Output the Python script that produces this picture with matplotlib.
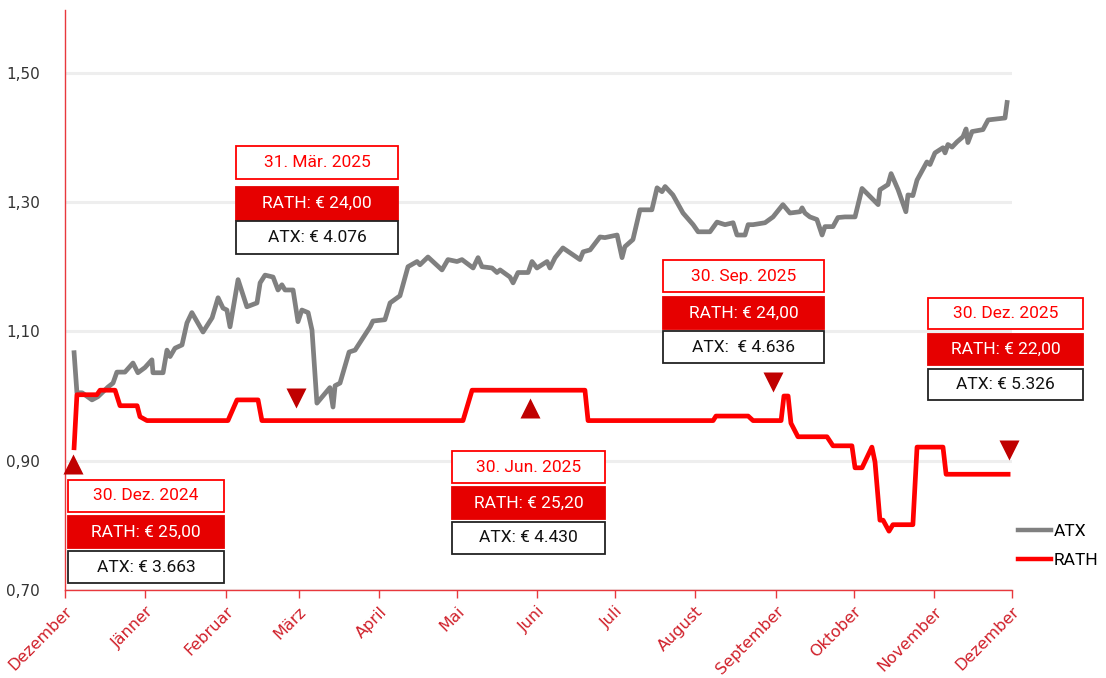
"""RATH vs ATX, normalised, Dez 2024 - Dez 2025."""

import matplotlib

matplotlib.use("Agg")
import matplotlib.pyplot as plt
from matplotlib.patches import Rectangle

W, H = 1106, 678

# x = days since 1 Dec 2024
month_days = [0, 31, 62, 90, 121, 151, 182, 212, 243, 274, 304, 335, 365]
month_labels = ["Dezember", "Jänner", "Februar", "März", "April", "Mai", "Juni",
                "Juli", "August", "September", "Oktober", "November", "Dezember"]
y_ticks = [0.70, 0.90, 1.10, 1.30, 1.50]

atx_days = [3.5, 4.6, 6.6, 10.4, 12.7, 16.6, 18.5, 20.0, 23.1, 26.2, 28.1, 30.8,
            33.5, 33.9, 37.8, 39.3, 40.5, 42.4, 45.1, 47.0, 48.9, 53.2, 56.7,
            59.0, 60.9, 62.4, 63.6, 66.7, 70.1, 74.0, 75.2, 77.1, 80.2, 82.1,
            83.6, 84.8, 87.9, 89.8, 91.3, 93.7, 95.2, 97.1, 102.1, 103.3, 104.1,
            106.0, 109.5, 111.8, 117.6, 118.7, 123.3, 125.3, 129.1, 132.2, 135.7,
            136.8, 139.9, 145.3, 147.6, 151.1, 153.0, 157.3, 159.2, 160.7, 164.6,
            166.5, 167.7, 171.5, 172.7, 174.6, 178.5, 180.0, 181.9, 185.8, 186.9,
            188.9, 191.9, 198.5, 199.7, 202.4, 206.2, 208.1, 212.8, 214.7, 215.8,
            218.9, 221.6, 226.2, 228.2, 230.1, 231.3, 234.3, 238.2, 242.1, 244.0,
            248.6, 251.3, 254.4, 257.5, 259.0, 262.1, 263.3, 265.2, 269.8, 272.9,
            276.7, 279.4, 283.3, 284.1, 285.2, 287.1, 289.8, 291.8, 292.9, 296.0,
            297.9, 300.6, 304.5, 307.2, 313.4, 314.1, 317.2, 318.4, 321.1, 324.1,
            324.9, 326.8, 328.4, 332.2, 333.4, 335.3, 338.4, 339.2, 340.3, 341.9,
            343.8, 346.1, 347.3, 348.0, 349.6, 353.8, 355.8, 362.3, 363.1]
atx_vals = [1.067, 1.005, 1.005, 0.994, 0.999, 1.014, 1.020, 1.037, 1.037, 1.051,
            1.036, 1.044, 1.056, 1.036, 1.036, 1.071, 1.061, 1.074, 1.079, 1.113,
            1.129, 1.099, 1.121, 1.152, 1.136, 1.133, 1.107, 1.180, 1.138, 1.144,
            1.175, 1.187, 1.184, 1.164, 1.172, 1.164, 1.164, 1.115, 1.133, 1.129,
            1.102, 0.989, 1.013, 0.983, 1.016, 1.020, 1.068, 1.071, 1.107, 1.116,
            1.118, 1.144, 1.155, 1.200, 1.208, 1.203, 1.215, 1.195, 1.211, 1.208,
            1.211, 1.198, 1.214, 1.200, 1.198, 1.191, 1.195, 1.184, 1.175, 1.191,
            1.191, 1.208, 1.198, 1.208, 1.198, 1.214, 1.229, 1.211, 1.223, 1.226,
            1.246, 1.245, 1.249, 1.214, 1.231, 1.242, 1.288, 1.288, 1.322, 1.316,
            1.324, 1.311, 1.283, 1.265, 1.254, 1.254, 1.269, 1.265, 1.268, 1.249,
            1.249, 1.265, 1.265, 1.268, 1.277, 1.296, 1.283, 1.285, 1.291, 1.283,
            1.277, 1.273, 1.249, 1.262, 1.262, 1.276, 1.277, 1.277, 1.321, 1.296,
            1.319, 1.327, 1.344, 1.319, 1.285, 1.311, 1.310, 1.334, 1.362, 1.358,
            1.376, 1.384, 1.376, 1.389, 1.385, 1.393, 1.401, 1.413, 1.392, 1.409,
            1.412, 1.427, 1.430, 1.454]

rath_days = [3.5, 4.6, 12.3, 13.5, 19.3, 21.2, 27.8, 28.9, 31.6, 62.8, 66.3, 74.4,
             75.9, 153.4, 156.9, 200.4, 201.6, 249.8, 250.9, 263.3, 265.2, 276.0,
             277.1, 278.7, 279.8, 282.5, 293.7, 296.0, 303.3, 304.5, 307.2, 311.0,
             312.2, 314.1, 315.3, 317.6, 319.1, 326.8, 328.4, 338.4, 339.6, 363.5]
rath_vals = [0.920, 1.002, 1.002, 1.009, 1.009, 0.985, 0.985, 0.968, 0.962, 0.962,
             0.994, 0.994, 0.962, 0.962, 1.009, 1.009, 0.962, 0.962, 0.969, 0.969,
             0.962, 0.962, 1.000, 1.000, 0.958, 0.937, 0.937, 0.923, 0.923, 0.889,
             0.889, 0.921, 0.898, 0.808, 0.808, 0.791, 0.801, 0.801, 0.921, 0.921,
             0.879, 0.879]

# trade signals
signal_days = [3.1, 89.0, 179.2, 272.9, 363.8]
signal_vals = [0.895, 0.997, 0.982, 1.022, 0.917]
signal_dirs = ["^", "v", "^", "v", "v"]

# info boxes
box_dates = ["30. Dez. 2024", "31. Mär. 2025", "30. Jun. 2025", "30. Sep. 2025",
             "30. Dez. 2025"]
box_rath = ["RATH: € 25,00", "RATH: € 24,00", "RATH: € 25,20", "RATH: € 24,00",
            "RATH: € 22,00"]
box_atx = ["ATX: € 3.663", "ATX: € 4.076", "ATX: € 4.430", "ATX:  € 4.636",
           "ATX: € 5.326"]
# (left, right, top of date box, top of rath box, top of atx box, row height) in px
box_layout = [(68, 224, 480, 516, 551, 32), (236, 398, 146, 187, 221, 33),
              (452, 605, 451, 487, 522, 32), (663, 824, 260, 297, 331, 32),
              (928, 1083, 298, 334, 369, 31)]

RED = "#ff0000"
BOX_RED = "#e60000"
AXIS_RED = "#e8383d"
TICK_RED = "#d0202a"
GRAY = "#808080"
BOX_FONT = ["Roboto", "DejaVu Sans"]

fig = plt.figure(figsize=(W / 100, H / 100), dpi=100)
ax = fig.add_axes([65 / W, 1 - 590 / H, (1012 - 65) / W, (590 - 10) / H])

ax.plot(atx_days, atx_vals, color=GRAY, lw=3.4, solid_joinstyle="round",
        label="ATX", zorder=3)
ax.plot(rath_days, rath_vals, color=RED, lw=3.4, solid_joinstyle="round",
        label="RATH", zorder=4)
for d, v, m in zip(signal_days, signal_vals, signal_dirs):
    ax.plot(d, v, marker=m, ms=15, color="#c00000", mec="none", zorder=5,
            clip_on=False)

ax.set_xlim(0, 365)
ax.set_ylim(0.70, 1.597)
ax.set_xticks(month_days)
ax.set_xticklabels(month_labels, rotation=45, ha="right", va="top",
                   rotation_mode="anchor", color=TICK_RED, fontsize=11.5)
ax.set_yticks(y_ticks)
ax.set_yticklabels([f"{t:.2f}".replace(".", ",") for t in y_ticks],
                   color="#333333", fontsize=11)
ax.tick_params(axis="x", colors=AXIS_RED, length=6, width=1, pad=4,
               labelcolor=TICK_RED)
ax.tick_params(axis="y", length=0, pad=18)
ax.yaxis.grid(True, color="#eeeeee", lw=2.2)
ax.set_axisbelow(True)
for s in ("top", "right"):
    ax.spines[s].set_visible(False)
ax.spines["left"].set_color(AXIS_RED)
ax.spines["bottom"].set_color(AXIS_RED)
ax.spines["left"].set_linewidth(1)
ax.spines["bottom"].set_linewidth(1)

leg = fig.legend(loc="center left", bbox_to_anchor=(1002 / W, 1 - 546 / H),
                 frameon=False, handlelength=1.9, handletextpad=0.2,
                 labelspacing=0.75,
                 prop={"family": ["Roboto", "DejaVu Sans"], "size": 12.5})
for line in leg.get_lines():
    line.set_linewidth(3.2)


def box(x0, x1, top, h, face, edge, text, color):
    fig.add_artist(Rectangle((x0 / W, 1 - (top + h) / H), (x1 - x0) / W, h / H,
                             transform=fig.transFigure, facecolor=face,
                             edgecolor=edge, lw=1.3, zorder=6))
    fig.text((x0 + x1) / 2 / W, 1 - (top + h / 2) / H, text, color=color,
             ha="center", va="center", fontsize=12.5, family=BOX_FONT,
             zorder=7)


for date, rath, atx, (x0, x1, t1, t2, t3, h) in zip(box_dates, box_rath,
                                                     box_atx, box_layout):
    box(x0, x1, t1, h, "white", RED, date, RED)
    box(x0, x1, t2, h, BOX_RED, BOX_RED, rath, "white")
    box(x0, x1, t3, h, "white", "#222222", atx, "#111111")

fig.savefig("out.png", dpi=100)
